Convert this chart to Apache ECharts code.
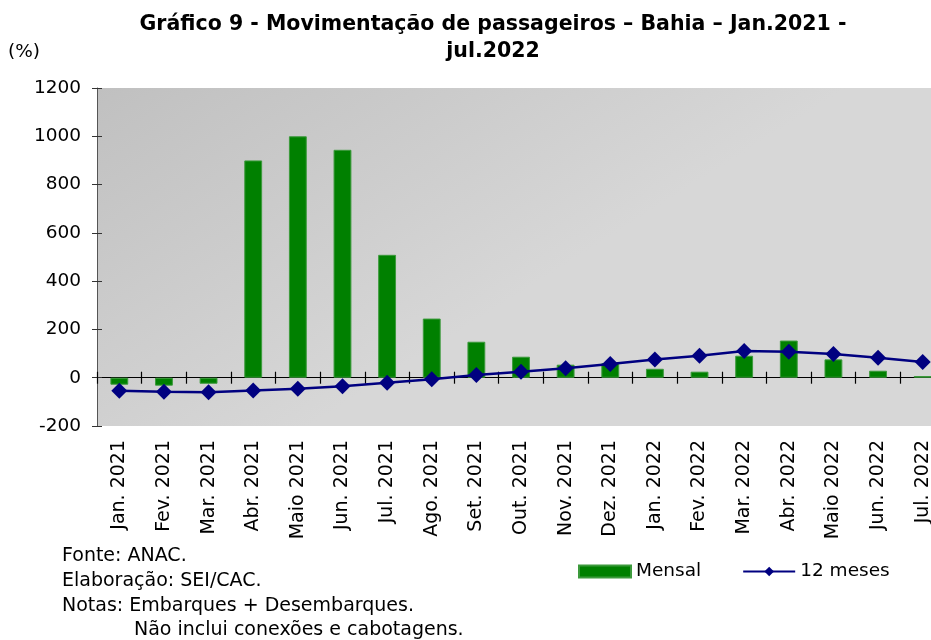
<!DOCTYPE html>
<html>
<head>
<meta charset="utf-8">
<script src="https://cdn.jsdelivr.net/npm/echarts@6/dist/echarts.min.js"></script>
<style>
  html, body { margin: 0; padding: 0; background: #fff; }
  #main { width: 931px; height: 640px; }
</style>
</head>
<body>
<div id="main"></div>
<script>
// meses (Jan.2021 - jul.2022)
var categorias = ['Jan. 2021', 'Fev. 2021', 'Mar. 2021', 'Abr. 2021', 'Maio 2021', 'Jun. 2021',
  'Jul. 2021', 'Ago. 2021', 'Set. 2021', 'Out. 2021', 'Nov. 2021', 'Dez. 2021',
  'Jan. 2022', 'Fev. 2022', 'Mar. 2022', 'Abr. 2022', 'Maio 2022', 'Jun. 2022', 'Jul. 2022'];
// variação mensal (%)
var mensal = [-29, -33, -25, 900, 1000, 944, 509, 245, 149, 87, 54, 60, 37, 25, 91, 154, 76, 29, 7];
// acumulado 12 meses (%)
var dozeMeses = [-54, -58, -60, -53, -46, -35, -21, -6, 11, 25, 39, 57, 75, 91, 111, 108, 98, 83, 65];
var yTicks = { min: -200, max: 1200, step: 200 };

var FONT = 'DejaVu Sans';
var GRID = { left: 97, top: 88, width: 848, height: 338 };
// distância do topo do grid até a linha do zero
var zeroOffset = GRID.height * yTicks.max / (yTicks.max - yTicks.min);

var chart = echarts.init(document.getElementById('main'));

var option = {
  animation: false,
  backgroundColor: '#fff',
  textStyle: { fontFamily: FONT },
  grid: {
    left: GRID.left, top: GRID.top, width: GRID.width, height: GRID.height,
    outerBoundsMode: 'none',
    show: true,
    borderWidth: 0,
    backgroundColor: new echarts.graphic.LinearGradient(0, 0, 0.25, 1, [
      { offset: 0, color: '#c0c0c0' },
      { offset: 1, color: '#d7d7d7' }
    ])
  },
  graphic: [
    { type: 'text', x: 493, y: 25, style: { text: 'Gráfico 9 - Movimentação de passageiros – Bahia – Jan.2021 -', font: 'bold 20.5px "DejaVu Sans"', fill: '#000', textAlign: 'center', textVerticalAlign: 'middle' } },
    { type: 'text', x: 493, y: 52, style: { text: 'jul.2022', font: 'bold 20.5px "DejaVu Sans"', fill: '#000', textAlign: 'center', textVerticalAlign: 'middle' } },
    { type: 'text', x: 8, y: 52, style: { text: '(%)', font: '18.5px "DejaVu Sans"', fill: '#000', textVerticalAlign: 'middle' } },
    { type: 'text', x: 62, y: 556, style: { text: 'Fonte: ANAC.', font: '19px "DejaVu Sans"', fill: '#000', textVerticalAlign: 'middle' } },
    { type: 'text', x: 62, y: 581, style: { text: 'Elaboração: SEI/CAC.', font: '19px "DejaVu Sans"', fill: '#000', textVerticalAlign: 'middle' } },
    { type: 'text', x: 62, y: 606, style: { text: 'Notas: Embarques + Desembarques.', font: '19px "DejaVu Sans"', fill: '#000', textVerticalAlign: 'middle' } },
    { type: 'text', x: 134, y: 630, style: { text: 'Não inclui conexões e cabotagens.', font: '19px "DejaVu Sans"', fill: '#000', textVerticalAlign: 'middle' } }
  ],
  legend: {
    left: 573, top: 557,
    itemWidth: 52, itemHeight: 12, itemGap: 41,
    textStyle: { fontFamily: FONT, fontSize: 18.5, color: '#000' },
    data: [
      { name: 'Mensal', icon: 'rect' },
      { name: '12 meses' }
    ]
  },
  xAxis: [
    { // rótulos embaixo
      type: 'category', data: categorias, position: 'bottom',
      axisLine: { show: false, onZero: false }, axisTick: { show: false },
      axisLabel: { interval: 0, rotate: 90, margin: 14, fontSize: 19, color: '#000', fontFamily: FONT }
    },
    { // eixo no zero, marcas para baixo
      type: 'category', data: categorias, position: 'bottom',
      axisLine: { show: true, onZero: true, lineStyle: { color: '#000', width: 1 } },
      axisTick: { show: true, interval: 0, length: 6, lineStyle: { color: '#000', width: 1.2 } },
      axisLabel: { show: false }
    },
    { // marcas para cima (eixo de cima deslocado até o zero)
      type: 'category', data: categorias, position: 'top',
      offset: -zeroOffset,
      axisLine: { show: false, onZero: false },
      axisTick: { show: true, interval: 0, length: 6, lineStyle: { color: '#000', width: 1.2 } },
      axisLabel: { show: false }
    }
  ],
  yAxis: [
    {
      type: 'value', min: yTicks.min, max: yTicks.max, interval: yTicks.step,
      splitLine: { show: false },
      axisLine: { show: true, onZero: false, lineStyle: { color: '#555', width: 1 } },
      axisTick: { show: true, length: 5, lineStyle: { color: '#333' } },
      axisLabel: { margin: 16, fontSize: 18.5, color: '#000', fontFamily: FONT, formatter: function (v) { return String(v); } }
    },
    {
      type: 'value', min: yTicks.min, max: yTicks.max, interval: yTicks.step, position: 'left',
      splitLine: { show: false },
      axisLine: { show: false, onZero: false },
      axisTick: { show: true, inside: true, length: 5, lineStyle: { color: '#333' } },
      axisLabel: { show: false }
    }
  ],
  series: [
    {
      name: 'Mensal', type: 'bar', data: mensal,
      xAxisIndex: 0, yAxisIndex: 0,
      barWidth: '40%',
      itemStyle: { color: '#008000', borderColor: '#3c9a3c', borderWidth: 1 }
    },
    {
      name: '12 meses', type: 'line', data: dozeMeses,
      xAxisIndex: 0, yAxisIndex: 0, z: 5,
      symbol: 'diamond', symbolSize: 16,
      lineStyle: { color: '#000080', width: 2.5 },
      itemStyle: { color: '#000080' }
    }
  ]
};

chart.setOption(option);
</script>
</body>
</html>
